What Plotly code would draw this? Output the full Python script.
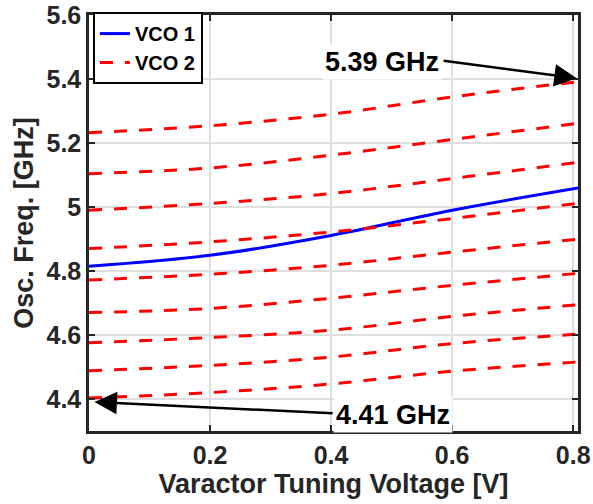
import plotly.graph_objects as go

# Varactor tuning voltage samples [V]
V = [0, 0.2, 0.4, 0.6, 0.81]

# VCO 1 (single curve) [GHz]
vco1 = [4.815, 4.849, 4.911, 4.990, 5.060]

# VCO 2 (nine sub-bands) [GHz]
vco2_c1 = [5.232, 5.254, 5.290, 5.344, 5.392]
vco2_c2 = [5.104, 5.122, 5.162, 5.211, 5.262]
vco2_c3 = [4.990, 5.011, 5.042, 5.089, 5.140]
vco2_c4 = [4.870, 4.891, 4.922, 4.964, 5.012]
vco2_c5 = [4.772, 4.790, 4.818, 4.859, 4.900]
vco2_c6 = [4.670, 4.683, 4.715, 4.755, 4.793]
vco2_c7 = [4.576, 4.592, 4.615, 4.658, 4.695]
vco2_c8 = [4.488, 4.505, 4.531, 4.573, 4.603]
vco2_c9 = [4.403, 4.420, 4.447, 4.487, 4.516]
vco2 = [vco2_c1, vco2_c2, vco2_c3, vco2_c4, vco2_c5, vco2_c6, vco2_c7, vco2_c8, vco2_c9]

x_ticks = [0, 0.2, 0.4, 0.6, 0.8]
x_ticktext = ["0", "0.2", "0.4", "0.6", "0.8"]
y_ticks = [4.4, 4.6, 4.8, 5.0, 5.2, 5.4, 5.6]
y_ticktext = ["4.4", "4.6", "4.8", "5", "5.2", "5.4", "5.6"]

FONT = "Liberation Sans, Arial, Helvetica, sans-serif"
AX = "#262626"

fig = go.Figure()
fig.add_trace(go.Scatter(x=V, y=vco1, mode="lines", name="VCO 1",
                         line=dict(color="#0000ff", width=3, shape="spline")))
for i, c in enumerate(vco2):
    fig.add_trace(go.Scatter(x=V, y=c, mode="lines", name="VCO 2",
                             showlegend=(i == 0), legendgroup="vco2",
                             line=dict(color="#ff0000", width=3, dash="13px,12px",
                                       shape="spline")))

axis_common = dict(
    showline=True, mirror="ticks", linecolor=AX, linewidth=2.5,
    ticks="inside", ticklen=6, tickwidth=2, tickcolor=AX,
    showgrid=True, gridcolor="#dfdfdf", gridwidth=2, zeroline=False,
    automargin=False,
    tickfont=dict(family=FONT, size=25, color=AX, weight="bold"),
)

fig.update_xaxes(range=[0, 0.808], tickvals=x_ticks, ticktext=x_ticktext,
                 title=dict(text="Varactor Tuning Voltage [V]",
                            font=dict(family=FONT, size=27, color=AX, weight="bold"),
                            standoff=7),
                 **axis_common)
fig.update_yaxes(range=[4.3, 5.6], tickvals=y_ticks, ticktext=y_ticktext,
                 title=dict(text="Osc. Freq. [GHz]",
                            font=dict(family=FONT, size=27, color=AX, weight="bold"),
                            standoff=6),
                 **axis_common)

ann_font = dict(family=FONT, size=27, color="black", weight="bold")
fig.add_annotation(x=0.484, y=5.452, text="5.39 GHz", showarrow=False,
                   font=ann_font, bgcolor="white", borderpad=2)
fig.add_annotation(x=0.806, y=5.402, ax=0.5835, ay=5.458, axref="x", ayref="y",
                   text="", showarrow=True, arrowhead=2, arrowsize=1.8,
                   arrowwidth=2.5, arrowcolor="black")
fig.add_annotation(x=0.5017, y=4.349, text="4.41 GHz", showarrow=False,
                   font=ann_font, bgcolor="white", borderpad=2)
fig.add_annotation(x=0.009, y=4.391, ax=0.405, ay=4.355, axref="x", ayref="y",
                   text="", showarrow=True, arrowhead=2, arrowsize=1.8,
                   arrowwidth=2.5, arrowcolor="black")

fig.update_layout(
    width=593, height=504,
    margin=dict(l=89, r=15, t=15, b=73),
    plot_bgcolor="white", paper_bgcolor="white",
    font=dict(family=FONT, color=AX),
    legend=dict(x=0.008, y=1.007, xanchor="left", yanchor="top",
                bgcolor="white", bordercolor="black", borderwidth=2,
                font=dict(family=FONT, size=20, color="black", weight="bold"),
                itemwidth=30, tracegroupgap=0),
)

fig.write_html("out.html")
